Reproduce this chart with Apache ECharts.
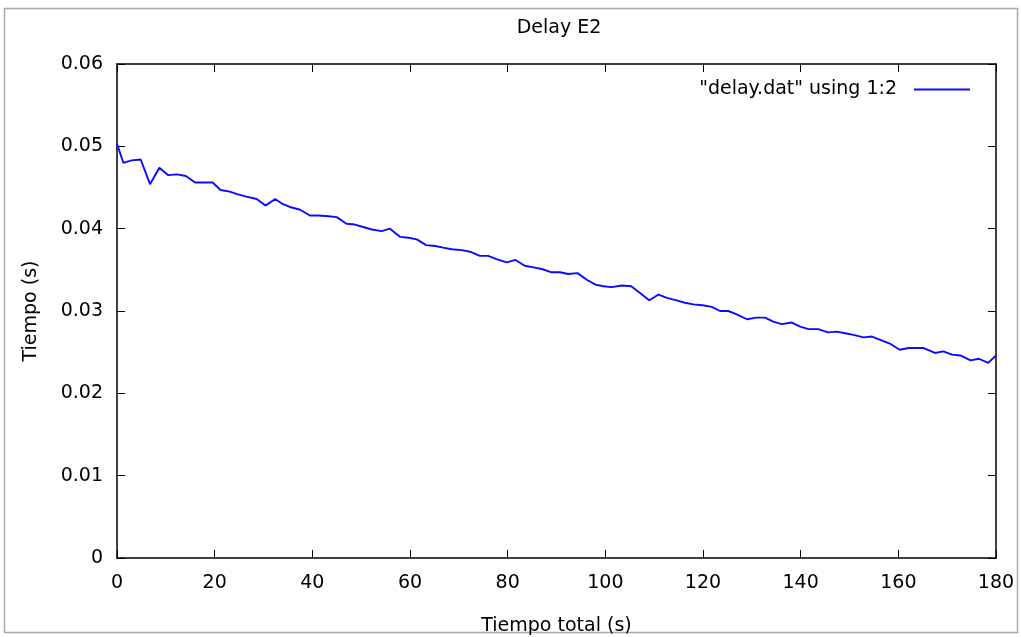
<!DOCTYPE html>
<html>
<head>
<meta charset="utf-8">
<script src="https://cdn.jsdelivr.net/npm/echarts@6/dist/echarts.min.js"></script>
<style>html,body{margin:0;padding:0;background:#fff}#c{width:1021px;height:637px}</style>
</head>
<body>
<div id="c"></div>
<script>
const times = [0, 1.3, 3.0, 4.85, 6.76, 8.67, 10.5, 12.3, 14.1, 16.0, 19.6, 21.2, 23.1, 24.6, 26.5, 28.6, 30.4, 32.4, 33.9, 35.6, 37.5, 39.5, 41.2, 43.3, 45.0, 47.0, 48.7, 50.4, 52.2, 54.2, 55.9, 58.0, 59.7, 61.4, 63.3, 65.2, 66.8, 68.5, 70.6, 72.3, 74.3, 76.0, 77.7, 79.8, 81.6, 83.5, 85.3, 87.0, 89.0, 90.7, 92.4, 94.3, 96.2, 98.0, 99.6, 101.3, 103.4, 105.3, 107.1, 109.0, 110.9, 112.6, 114.6, 116.3, 118.0, 119.9, 121.8, 123.5, 125.2, 126.9, 129.0, 131.0, 132.7, 134.4, 136.1, 138.2, 139.9, 141.6, 143.6, 145.6, 147.4, 149.1, 150.8, 152.9, 154.6, 156.3, 158.4, 160.3, 162.1, 165.2, 167.5, 169.2, 171.0, 172.7, 174.8, 176.5, 178.4, 180];
const delays = [0.0503, 0.0480, 0.0483, 0.0484, 0.0454, 0.0474, 0.0465, 0.0466, 0.0464, 0.0456, 0.0456, 0.0447, 0.0445, 0.0442, 0.0439, 0.0436, 0.0428, 0.0436, 0.0430, 0.0426, 0.0423, 0.0416, 0.0416, 0.0415, 0.0414, 0.0406, 0.0405, 0.0402, 0.0399, 0.0397, 0.0400, 0.0390, 0.0389, 0.0387, 0.0380, 0.0379, 0.0377, 0.0375, 0.0374, 0.0372, 0.0367, 0.0367, 0.0363, 0.0359, 0.0362, 0.0355, 0.0353, 0.0351, 0.0347, 0.0347, 0.0345, 0.0346, 0.0338, 0.0332, 0.0330, 0.0329, 0.0331, 0.0330, 0.0322, 0.0313, 0.0320, 0.0316, 0.0313, 0.0310, 0.0308, 0.0307, 0.0305, 0.0300, 0.0300, 0.0296, 0.0290, 0.0292, 0.0292, 0.0287, 0.0284, 0.0286, 0.0281, 0.0278, 0.0278, 0.0274, 0.0275, 0.0273, 0.0271, 0.0268, 0.0269, 0.0265, 0.0260, 0.0253, 0.0255, 0.0255, 0.0249, 0.0251, 0.0247, 0.0246, 0.0240, 0.0242, 0.0237, 0.0246];
const seriesName = '"delay.dat" using 1:2';
const titleText = 'Delay E2';
const xName = 'Tiempo total (s)';
const yName = 'Tiempo (s)';

const font = 'DejaVu Sans';
const fs = 19;
const chart = echarts.init(document.getElementById('c'), null, {renderer: 'canvas'});
const axisLine = {show: true, onZero: false, lineStyle: {color: '#000', width: 1.5}};
const tick = {show: true, inside: true, length: 8, lineStyle: {color: '#000', width: 1}};
chart.setOption({
  animation: false,
  backgroundColor: '#fff',
  graphic: [{type: 'rect', shape: {x: 4.5, y: 8.5, width: 1013, height: 624}, style: {fill: 'none', stroke: '#aaa', lineWidth: 1.5}, silent: true}],
  title: {text: titleText, left: 554, top: 14, textAlign: 'center', textStyle: {fontFamily: font, fontSize: fs, fontWeight: 'normal', color: '#000'}},
  legend: {
    right: 46, top: 75, itemWidth: 56, itemHeight: 2, align: 'right',
    textStyle: {fontFamily: font, fontSize: fs, color: '#000', padding: [0, 12, 0, 0]},
    data: [{name: seriesName, icon: 'rect'}]
  },
  grid: {left: 117, right: 25, top: 64, bottom: 79, show: false, containLabel: false, outerBoundsMode: 'none'},
  xAxis: [{
    type: 'value', min: 0, max: 180, interval: 20, position: 'bottom',
    name: xName, nameLocation: 'middle', nameGap: 59,
    nameTextStyle: {fontFamily: font, fontSize: fs, color: '#000'},
    axisLine: axisLine, axisTick: tick, splitLine: {show: false},
    axisLabel: {fontFamily: font, fontSize: fs, color: '#000', margin: 16}
  }, {
    type: 'value', min: 0, max: 180, interval: 20, position: 'top',
    axisLine: axisLine, axisTick: tick, splitLine: {show: false}, axisLabel: {show: false}
  }],
  yAxis: [{
    type: 'value', min: 0, max: 0.06, interval: 0.01, position: 'left',
    name: yName, nameLocation: 'middle', nameGap: 76, nameRotate: 90,
    nameTextStyle: {fontFamily: font, fontSize: fs, color: '#000'},
    axisLine: axisLine, axisTick: tick, splitLine: {show: false},
    axisLabel: {fontFamily: font, fontSize: fs, color: '#000', margin: 14}
  }, {
    type: 'value', min: 0, max: 0.06, interval: 0.01, position: 'right',
    axisLine: axisLine, axisTick: tick, splitLine: {show: false}, axisLabel: {show: false}
  }],
  series: [{
    name: seriesName, type: 'line', symbol: 'none',
    lineStyle: {color: '#0a0aff', width: 1.9},
    itemStyle: {color: '#0a0aff'},
    data: times.map((t, i) => [t, delays[i]])
  }]
});
</script>
</body>
</html>
